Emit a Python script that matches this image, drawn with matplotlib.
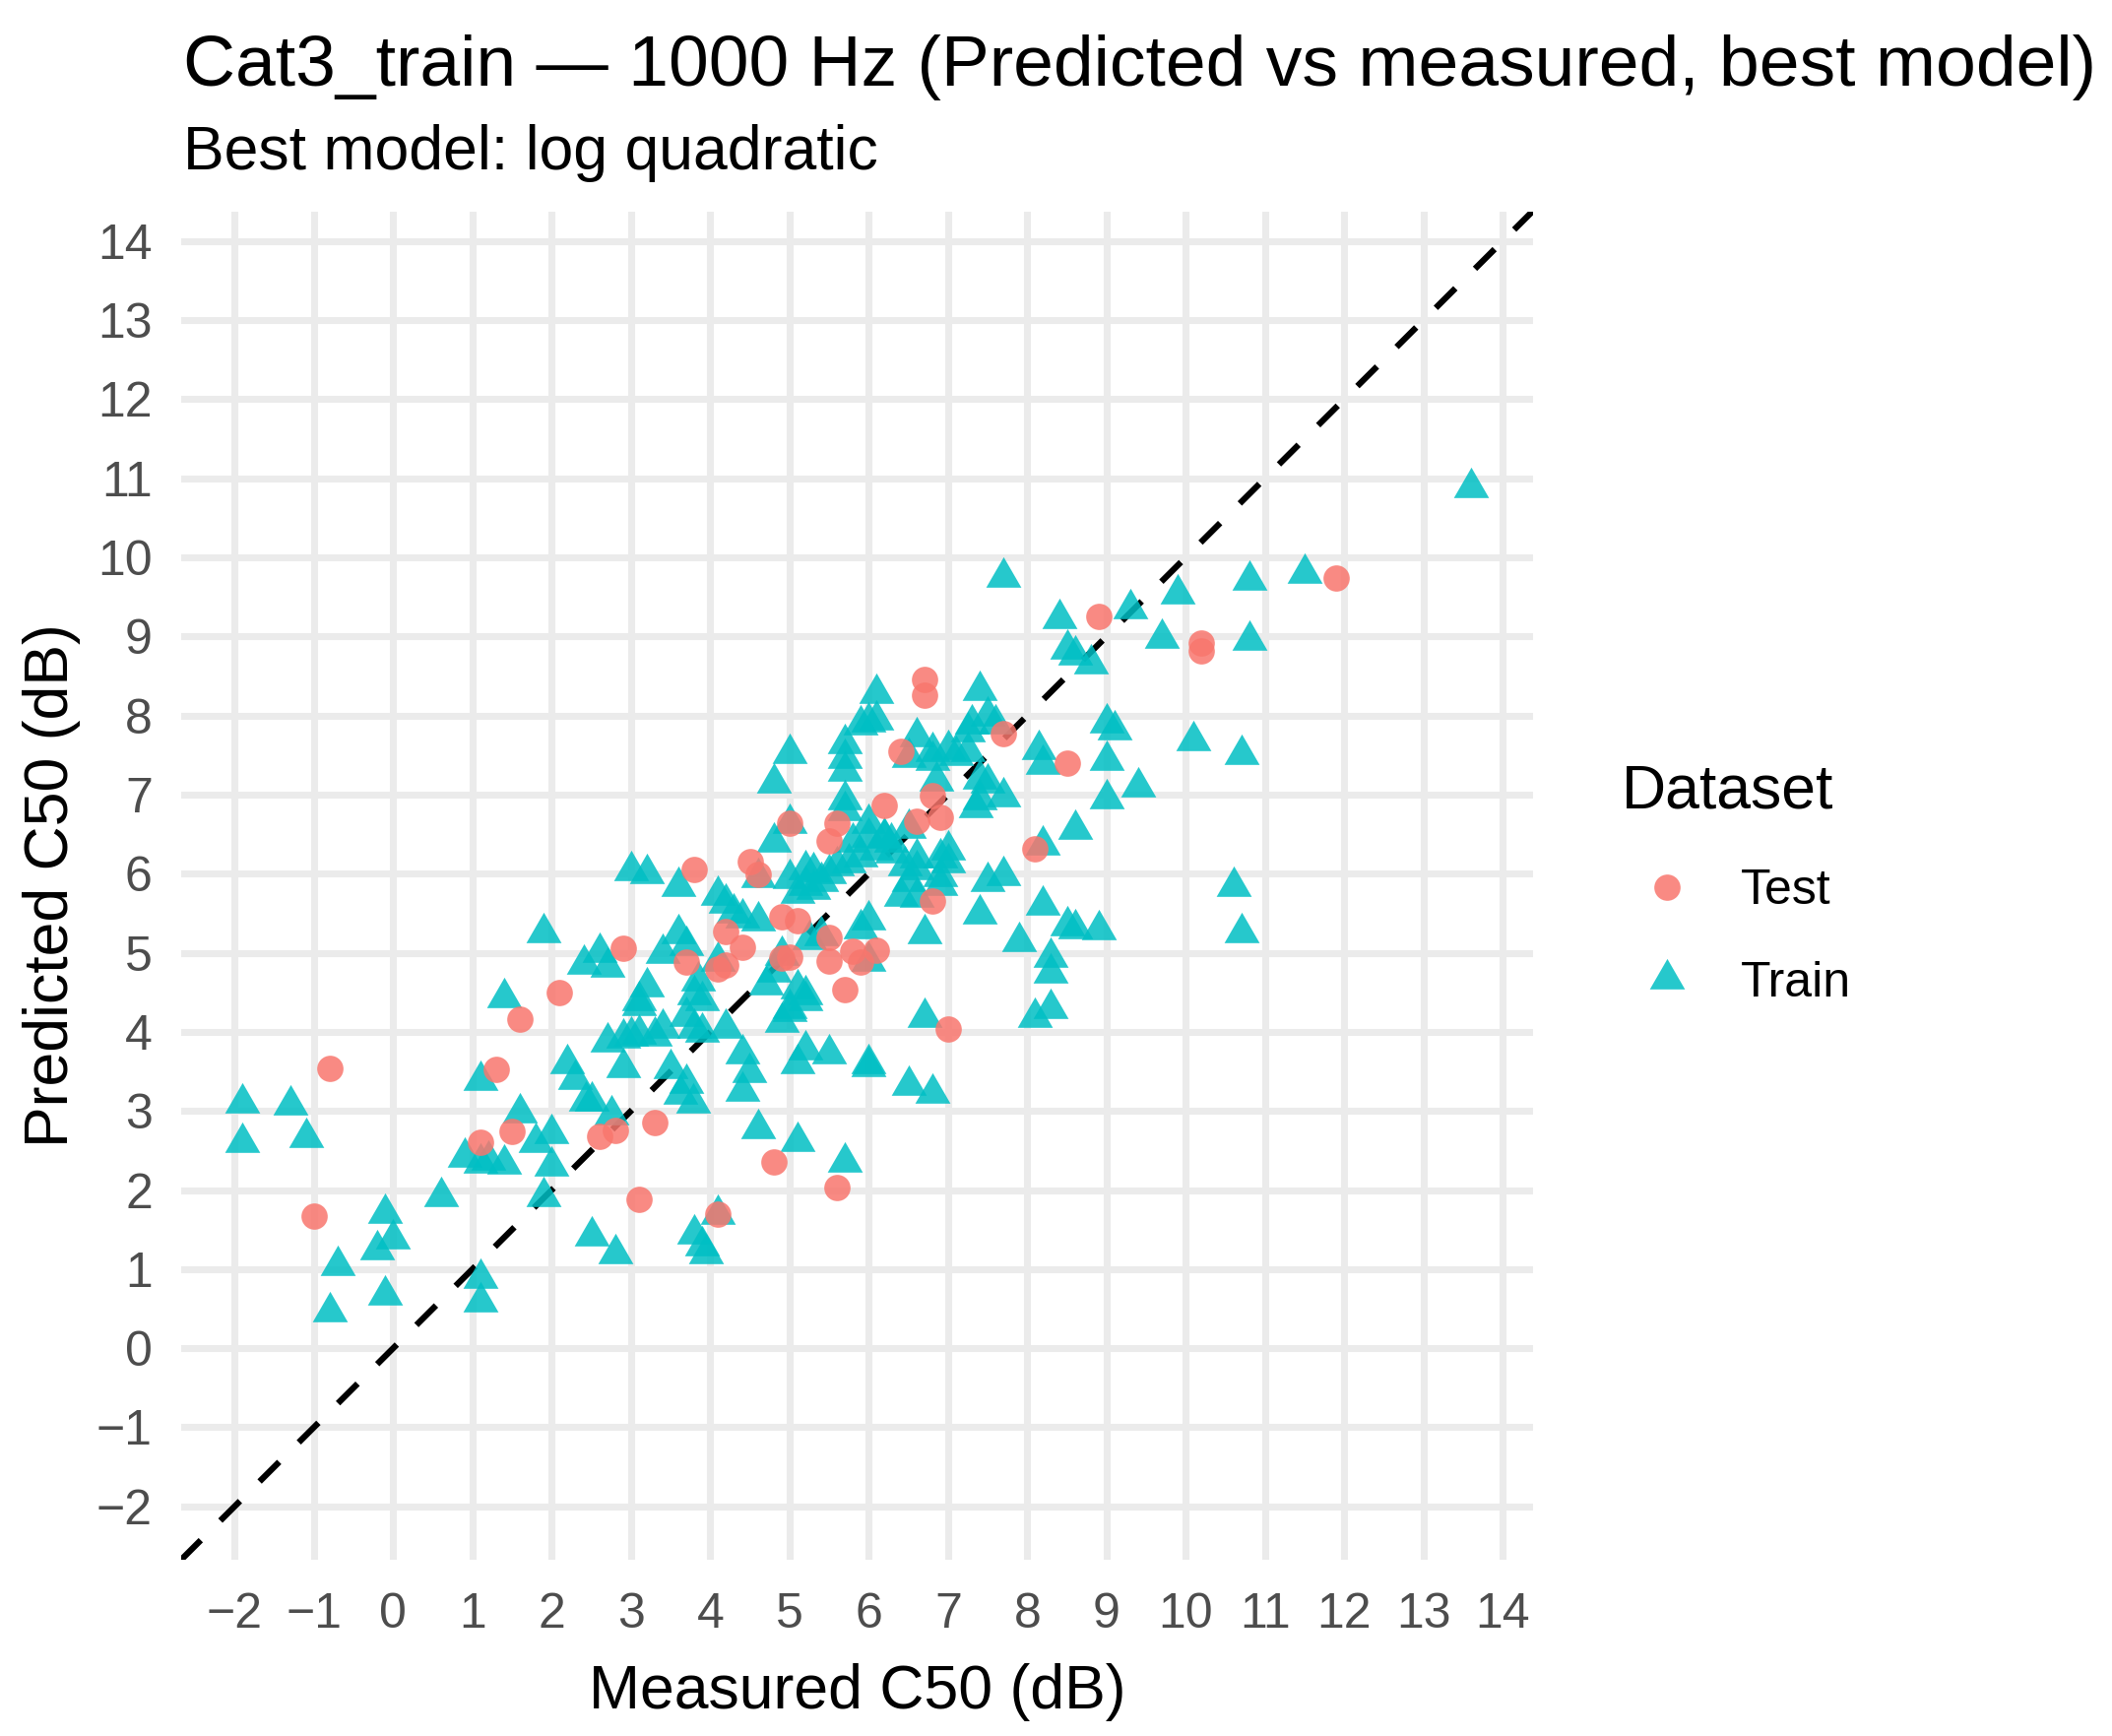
import numpy as np
import matplotlib
matplotlib.use("Agg")
import matplotlib.pyplot as plt
from matplotlib.path import Path
from matplotlib.lines import Line2D

plt.rcParams['font.family'] = ['Liberation Sans', 'DejaVu Sans']

# measured / predicted C50 (dB)
test_x = [-0.8, -1.0, 1.1, 1.3, 1.5, 1.6, 2.1, 2.6, 2.8, 2.9, 3.1, 3.3, 3.7, 3.8,
          4.1, 4.1, 4.2, 4.2, 4.4, 4.5, 4.6, 4.8, 4.9, 4.9, 5.0, 5.0, 5.1, 5.5,
          5.5, 5.5, 5.6, 5.6, 5.7, 5.8, 5.9, 6.1, 6.2, 6.4, 6.6, 6.7, 6.7, 6.8,
          6.8, 6.9, 7.0, 7.7, 8.1, 8.5, 8.9, 10.2, 10.2, 11.9]
test_y = [3.54, 1.67, 2.61, 3.52, 2.74, 4.16, 4.50, 2.68, 2.75, 5.06, 1.88, 2.85, 4.88, 6.05,
          1.70, 4.79, 4.85, 5.27, 5.07, 6.15, 5.99, 2.36, 5.46, 4.93, 4.95, 6.64, 5.40, 4.89,
          5.19, 6.41, 6.64, 2.03, 4.53, 5.02, 4.88, 5.03, 6.86, 7.55, 6.66, 8.45, 8.26, 6.99,
          5.66, 6.71, 4.04, 7.77, 6.32, 7.40, 9.25, 8.92, 8.82, 9.74]

train_x = [-1.9, -1.9, -1.3, -1.1, -0.8, -0.7, -0.2, -0.1, -0.1, 0.0,
           0.6, 0.9, 1.1, 1.2, 1.4, 1.1, 1.1, 1.1, 1.4, 1.6,
           1.8, 2.0, 2.0, 1.9, 1.9, 2.2, 2.3, 2.43, 2.5, 2.5,
           2.8, 2.4, 2.6, 2.7, 2.7, 2.9, 2.75, 2.9, 3.0, 3.1,
           3.3, 3.4, 3.0, 3.2, 3.6, 3.6, 3.7, 3.4, 3.2, 3.1,
           3.1, 3.8, 3.85, 3.7, 3.8, 3.9, 3.9, 4.2, 3.5, 3.62,
           3.7, 3.78, 3.8, 3.9, 3.95, 4.1, 4.41, 4.49, 4.4, 4.6,
           4.1, 4.2, 4.3, 4.4, 4.6, 4.1, 4.6, 4.7, 4.8, 4.9,
           5.1, 5.2, 5.0, 4.9, 5.0, 5.2, 5.2, 5.1, 5.5, 6.0,
           5.1, 5.7, 5.25, 5.4, 5.0, 5.2, 5.3, 5.2, 5.3, 5.1,
           5.4, 5.5, 5.6, 4.8, 5.0, 4.8, 5.0, 5.7, 5.7, 5.7,
           5.7, 5.7, 5.9, 6.0, 6.1, 6.1, 6.6, 6.8, 7.0, 6.5,
           6.8, 7.1, 7.25, 6.85, 7.4, 7.5, 7.6, 7.3, 7.25, 7.35,
           6.0, 6.0, 6.2, 5.8, 6.28, 6.1, 5.9, 5.75, 7.0, 7.0,
           6.9, 6.6, 6.45, 6.3, 6.5, 6.5, 6.2, 6.6, 6.9, 6.4,
           6.6, 6.9, 6.0, 5.9, 6.0, 6.7, 7.4, 7.5, 7.7, 7.4,
           6.7, 6.0, 6.5, 6.8, 7.7, 8.4, 8.5, 8.6, 8.8, 8.15,
           8.2, 8.6, 8.2, 7.5, 7.7, 7.4, 8.2, 8.5, 8.6, 8.9,
           7.9, 8.3, 8.3, 8.3, 8.1, 9.0, 9.1, 9.0, 9.0, 9.4,
           9.3, 9.9, 9.7, 10.8, 10.8, 11.5, 13.6, 10.1, 10.7, 10.6,
           10.7]
train_y = [3.10, 2.60, 3.08, 2.67, 0.46, 1.05, 1.25, 1.71, 0.68, 1.38,
           1.92, 2.42, 2.34, 2.38, 2.33, 0.89, 0.59, 3.39, 4.44, 2.98,
           2.61, 2.72, 2.30, 1.92, 5.25, 3.60, 3.40, 3.13, 3.13, 1.42,
           1.20, 4.86, 5.01, 4.82, 3.87, 3.55, 2.95, 3.93, 3.95, 3.97,
           3.95, 4.05, 6.04, 6.00, 5.84, 5.24, 5.10, 4.99, 4.57, 4.40,
           4.34, 4.47, 4.65, 4.20, 4.05, 4.00, 4.40, 4.05, 3.54, 3.22,
           3.35, 3.10, 1.45, 1.30, 1.20, 1.70, 3.73, 3.49, 3.25, 2.78,
           5.73, 5.63, 5.50, 5.44, 5.40, 4.90, 5.95, 4.60, 4.76, 4.97,
           4.55, 4.47, 4.30, 4.12, 4.26, 4.40, 3.78, 3.60, 3.73, 3.60,
           2.62, 2.36, 5.17, 5.22, 5.94, 6.05, 6.03, 5.85, 5.80, 5.75,
           5.90, 6.00, 6.10, 6.40, 6.64, 7.15, 7.52, 7.65, 7.46, 7.30,
           6.94, 6.80, 7.88, 7.92, 7.95, 8.28, 7.74, 7.55, 7.57, 7.47,
           7.43, 7.50, 7.55, 7.17, 8.32, 8.00, 7.90, 7.90, 7.80, 6.84,
           6.64, 6.47, 6.47, 6.40, 6.40, 6.30, 6.22, 6.14, 6.30, 6.14,
           5.97, 6.05, 6.10, 6.27, 5.90, 6.58, 6.45, 6.20, 6.20, 5.72,
           5.70, 5.85, 5.42, 5.30, 4.90, 5.24, 7.20, 7.15, 6.98, 6.94,
           4.18, 3.56, 3.33, 3.23, 9.75, 9.23, 8.84, 8.77, 8.65, 7.57,
           7.38, 6.56, 6.36, 5.90, 5.98, 5.49, 5.60, 5.34, 5.30, 5.29,
           5.15, 4.95, 4.74, 4.30, 4.18, 7.91, 7.82, 7.44, 6.95, 7.10,
           9.35, 9.54, 8.98, 9.71, 8.96, 9.80, 10.89, 7.69, 7.51, 5.84,
           5.25]

x_ticks = list(range(-2, 15))
y_ticks = list(range(-2, 15))
lims = (-2.675, 14.375)

TEST_COL = '#F8766D'
TRAIN_COL = '#00BFC4'
W, H = 2145, 1763

# ggplot-style triangle, centred on its centroid
tri = Path([(0, 1), (-0.866, -0.5), (0.866, -0.5), (0, 1)],
           [Path.MOVETO, Path.LINETO, Path.LINETO, Path.CLOSEPOLY])

fig = plt.figure(figsize=(W / 300, H / 300), dpi=300)
ax = fig.add_axes([184 / W, 1 - 1584 / H, 1372.5 / W, 1369.4 / H])

ax.axline((0, 0), slope=1, color='black', lw=1.5, linestyle=(0, (4.5, 4.5)), zorder=1)
ax.scatter(train_x, train_y, marker=tri, s=98, color=TRAIN_COL, alpha=0.85,
           linewidths=0, zorder=2)
ax.scatter(test_x, test_y, marker='o', s=41, color=TEST_COL, alpha=0.85,
           linewidths=0, zorder=3)

ax.set_xlim(lims)
ax.set_ylim(lims)
ax.set_xticks(x_ticks)
ax.set_yticks(y_ticks)
ax.grid(True, color='#EBEBEB', lw=1.7)
ax.set_axisbelow(True)
for s in ax.spines.values():
    s.set_visible(False)
ax.tick_params(length=0, labelsize=12, labelcolor='#4D4D4D')
ax.tick_params(axis='x', pad=8)
ax.tick_params(axis='y', pad=7)

ax.set_xlabel('Measured C50 (dB)', fontsize=15, va='baseline')
ax.xaxis.set_label_coords(0.5, -0.110)
ax.set_ylabel('Predicted C50 (dB)', fontsize=15, va='center')
ax.yaxis.set_label_coords(-0.096, 0.5)

fig.text(186 / W, 1 - 87 / H,
         'Cat3_train \u2014 1000 Hz (Predicted vs measured, best model)',
         fontsize=17.6, va='baseline', ha='left')
fig.text(186 / W, 1 - 172 / H, 'Best model: log quadratic',
         fontsize=15, va='baseline', ha='left')

# legend: title placed as text, keys below it
fig.text(1647 / W, 1 - 821 / H, 'Dataset', fontsize=15, va='baseline', ha='left')
handles = [
    Line2D([], [], linestyle='none', marker='o', markersize=6.4,
           markerfacecolor=TEST_COL, markeredgewidth=0, alpha=0.85),
    Line2D([], [], linestyle='none', marker=tri, markersize=9.9,
           markerfacecolor=TRAIN_COL, markeredgewidth=0, alpha=0.85),
]
ax.legend(handles, ['Test', 'Train'], frameon=False,
          loc='upper left', bbox_to_anchor=(1647 / W, 1 - 882 / H),
          bbox_transform=fig.transFigure, borderpad=0, borderaxespad=0,
          fontsize=12, handlelength=1.84, handletextpad=0.58,
          labelspacing=0.95)

fig.savefig('out.png', dpi=300, facecolor='white')
